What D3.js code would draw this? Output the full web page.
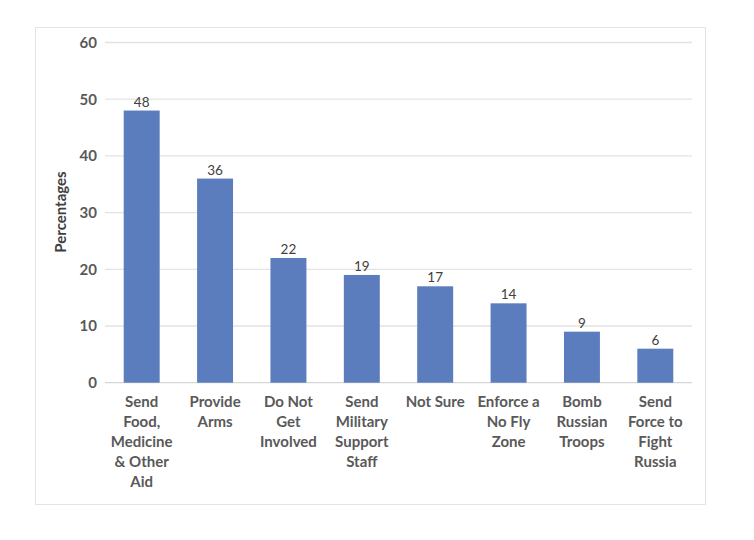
<!DOCTYPE html>
<html><head><meta charset="utf-8">
<script src="https://cdn.jsdelivr.net/npm/d3@7"></script>
<style>body{margin:0;background:#fff}svg{display:block}</style>
</head><body><svg id="c" width="754" height="540"></svg>
<script>
const categories = [
  ["Send","Food,","Medicine","& Other","Aid"],
  ["Provide","Arms"],
  ["Do Not","Get","Involved"],
  ["Send","Military","Support","Staff"],
  ["Not Sure"],
  ["Enforce a","No Fly","Zone"],
  ["Bomb","Russian","Troops"],
  ["Send","Force to","Fight","Russia"]
];
const values = [48, 36, 22, 19, 17, 14, 9, 6];
const yTicks = [0, 10, 20, 30, 40, 50, 60];
const yTitle = "Percentages";

const svg = d3.select("#c");
const font = "Lato, 'Open Sans', sans-serif";
svg.append("rect").attr("x",35.5).attr("y",27.5).attr("width",670).attr("height",477)
  .attr("fill","#fff").attr("stroke","#e3e3e3");

const x = d3.scaleBand().domain(d3.range(categories.length)).range([105,692]).paddingInner(0.51).paddingOuter(0.255);
const y = d3.scaleLinear().domain([0,60]).range([382.7,42.5]);

const g = svg.append("g");
g.selectAll("line.grid").data(yTicks).join("line")
  .attr("x1",105).attr("x2",692).attr("y1",d=>y(d)).attr("y2",d=>y(d))
  .attr("stroke",d=>d===0?"#d6d6d6":"#e3e3e3").attr("stroke-width",1.3);

const ya = g.append("g").attr("transform","translate(105,0)")
  .call(d3.axisLeft(y).tickValues(yTicks).tickSize(0).tickPadding(8));
ya.select(".domain").remove();
ya.selectAll("text").attr("font-family",font).attr("font-size",15).attr("font-weight","bold").attr("fill","#595959");

g.selectAll("rect.bar").data(values).join("rect")
  .attr("x",(d,i)=>x(i)).attr("width",x.bandwidth())
  .attr("y",d=>y(d)).attr("height",d=>y(0)-y(d)).attr("fill","#5b7cbd");

g.selectAll("text.val").data(values).join("text")
  .attr("x",(d,i)=>x(i)+x.bandwidth()/2).attr("y",d=>y(d)-4)
  .attr("text-anchor","middle").attr("font-family",font).attr("font-size",13.5)
  .attr("fill","#404040").text(d=>d);

categories.forEach((lines,i)=>{
  const t = g.append("text").attr("text-anchor","middle").attr("font-family",font)
    .attr("font-size",15).attr("font-weight","bold").attr("fill","#595959");
  lines.forEach((l,j)=>{
    t.append("tspan").attr("x",x(i)+x.bandwidth()/2).attr("y",407+j*20).text(l);
  });
});

svg.append("text").attr("transform","translate(66,212) rotate(-90)")
  .attr("text-anchor","middle").attr("font-family",font).attr("font-size",15)
  .attr("font-weight","bold").attr("fill","#404040").text(yTitle);
</script></body></html>
